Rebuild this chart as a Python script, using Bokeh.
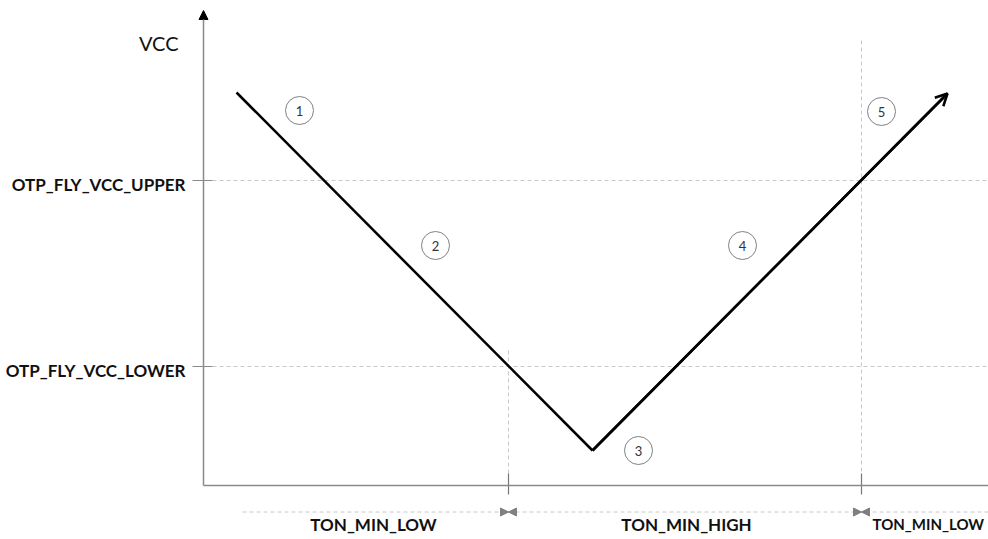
from bokeh.plotting import figure
from bokeh.models import Range1d, Arrow, NormalHead, OpenHead, ColumnDataSource
from bokeh.core.properties import value
from bokeh.embed import file_html
from bokeh.resources import INLINE

# ---- data (time in arbitrary units, VCC in arbitrary units) ----
trace_t = [3.3, 38.9, 74.4]
trace_vcc = [39.3, 3.5, 39.2]
threshold_names = ["OTP_FLY_VCC_UPPER", "OTP_FLY_VCC_LOWER"]
threshold_vcc = [30.5, 11.9]
crossing_t = [30.5, 65.8]
interval_names = ["TON_MIN_LOW", "TON_MIN_HIGH", "TON_MIN_LOW"]
phase_labels = ["1", "2", "3", "4", "5"]
phase_t = [9.6, 23.2, 43.5, 53.9, 67.8]
phase_vcc = [37.5, 24.0, 3.5, 24.0, 37.4]

X_MAX = 78.5
GRID = "#c8c8c8"
AXIS = "#8a8a8a"
FONT = "Lato"

p = figure(width=988, height=539, x_range=Range1d(-20.3, X_MAX), y_range=Range1d(-5.4, 48.5),
           output_backend="svg", toolbar_location=None, min_border=0,
           x_axis_type=None, y_axis_type=None)
p.grid.visible = False
p.outline_line_color = None

# threshold dashed lines + ticks + labels
for v, name in zip(threshold_vcc, threshold_names):
    p.line([0.9, X_MAX], [v, v], line_color=GRID, line_dash="4 3", line_width=1)
    p.line([-1.1, 0.9], [v, v], line_color=AXIS, line_width=1.2)
    p.text([-1.8], [v - 0.4], text=[name], text_align="right", text_baseline="middle",
           text_font=value(FONT), text_font_style="bold", text_font_size="17px", text_color="#111111")

# vertical dashed markers at crossings
crossing_top = [13.5, 44.5]
for t, top in zip(crossing_t, crossing_top):
    p.line([t, t], [top, 1.2], line_color=GRID, line_dash="4 3", line_width=1)
    p.line([t, t], [1.2, -0.9], line_color="#777777", line_width=1.2)

# axes
p.line([0, X_MAX], [0, 0], line_color=AXIS, line_width=1.5)
p.add_layout(Arrow(end=NormalHead(size=9, fill_color="black", line_color="black"),
                   x_start=0, y_start=0, x_end=0, y_end=47.5, line_color=AXIS, line_width=1.5))
p.text([-2.5], [44.3], text=["VCC"], text_align="right", text_baseline="middle",
       text_font=value(FONT), text_font_size="20px", text_color="#111111")

# bottom interval line
bot_y = -2.65
p.line([3.9, X_MAX], [bot_y, bot_y], line_color=GRID, line_dash="4 3", line_width=1)
for t in crossing_t:
    for d in (-1, 1):
        p.add_layout(Arrow(end=NormalHead(size=8, fill_color="#808080", line_color="#808080"),
                           x_start=t + d * 0.9, y_start=bot_y, x_end=t, y_end=bot_y, line_alpha=0))

label_x = [17.0, 48.3]
p.text(label_x, [-3.85] * 2, text=interval_names[:2], text_align="center", text_baseline="middle",
       text_font=value(FONT), text_font_style="bold", text_font_size="17px", text_color="#111111")
p.text([66.9], [-3.85], text=interval_names[2:], text_align="left", text_baseline="middle",
       text_font=value(FONT), text_font_style="bold", text_font_size="15px", text_color="#111111")

# VCC trace
p.line(trace_t[:2], trace_vcc[:2], line_color="black", line_width=2.5)
p.line(trace_t[1:], trace_vcc[1:], line_color="black", line_width=2.5)
p.add_layout(Arrow(end=OpenHead(size=12, line_color="black", line_width=2.5),
                   x_start=trace_t[1], y_start=trace_vcc[1], x_end=trace_t[2], y_end=trace_vcc[2],
                   line_color="black", line_width=2.5))

# phase circles
src = ColumnDataSource(dict(x=phase_t, y=phase_vcc, lab=phase_labels))
p.scatter("x", "y", source=src, marker="circle", size=28, fill_color="white",
          line_color="#808080", line_width=1)
p.text("x", "y", text="lab", source=src, text_align="center", text_baseline="middle",
       text_font=value(FONT), text_font_size="13px", text_color="#333333")

open("out.html", "w").write(file_html(p, INLINE))
